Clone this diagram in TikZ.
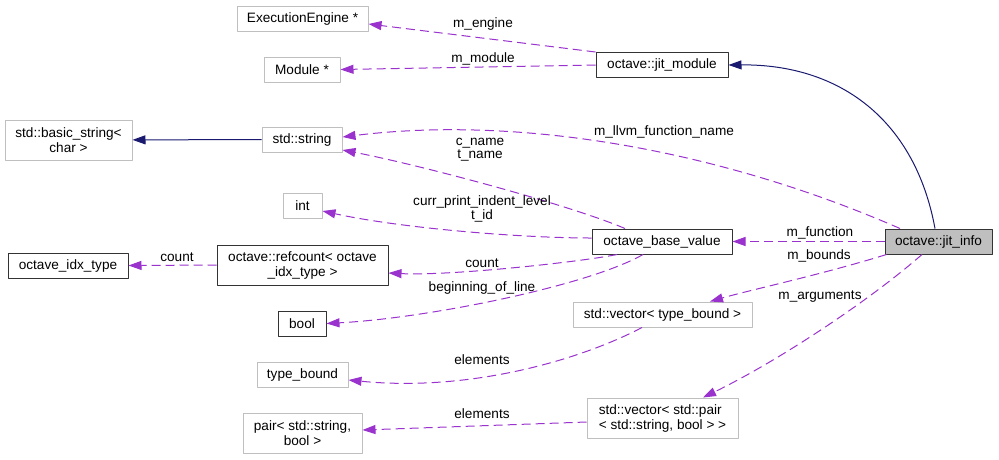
\documentclass[tikz,border=0pt]{standalone}
\usepackage{fontspec}
\setmainfont{Liberation Sans}
\usetikzlibrary{arrows.meta}
\definecolor{edgepurple}{HTML}{9A32CD}
\definecolor{inhnavy}{HTML}{191970}

\begin{document}
\begin{tikzpicture}[
    x=1pt, y=-1pt,
    line join=round, >={Triangle[length=13pt,width=9pt]},
    every node/.style={font=\fontsize{13.6}{15}\selectfont, inner sep=2pt},
    box/.style={draw=black!80,line width=1pt,minimum height=25pt},
    ghost/.style={draw=black!25,line width=1pt,minimum height=25pt},
    focus/.style={box,fill=black!25},
    member/.style={->,draw=edgepurple,line width=1pt,dash pattern=on 9pt off 5pt},
    inherit/.style={->,draw=inhnavy,line width=1pt},
    lbl/.style={inner sep=0pt,font=\fontsize{13.6}{13.5}\selectfont,align=center}
]
    \useasboundingbox (0,0) rectangle (999,459);

    % Classes, laid out in three columns as the graph engine placed them.
    \node[ghost,minimum width=131pt] (engine) at (302.5,18.5) {ExecutionEngine *};
    \node[ghost,minimum width=76pt] (module) at (302,69.5) {Module *};
    \node[box,minimum width=132pt] (jitmodule) at (662,65) {octave::jit\_module};
    \node[ghost,minimum width=127pt,minimum height=40pt,align=center] (basicstr)
        at (68.5,140) {std::basic\_string<\\char >};
    \node[ghost,minimum width=80pt] (stdstr) at (302,139.5) {std::string};
    \node[ghost,minimum width=39pt] (intt) at (302.5,206) {int};
    \node[box,minimum width=140pt] (basevalue) at (662,241.5) {octave\_base\_value};
    \node[focus,minimum width=107pt] (jitinfo) at (938.5,241.5) {octave::jit\_info};
    \node[box,minimum width=120pt] (idxtype) at (68,265.5) {octave\_idx\_type};
    \node[box,minimum width=171pt,minimum height=40pt,align=center] (refcount)
        at (302.5,265) {octave::refcount< octave\\\_idx\_type >};
    \node[box,minimum width=48pt] (boolt) at (302,323.5) {bool};
    \node[ghost,minimum width=179pt] (vecbound) at (662.5,314.5) {std::vector< type\_bound >};
    \node[ghost,minimum width=91pt] (typebound) at (302.5,374.5) {type\_bound};
    \node[ghost,minimum width=119pt,minimum height=40pt,align=center] (pairt)
        at (302.5,433) {pair< std::string,\\bool >};
    \node[ghost,minimum width=151pt,minimum height=40pt,align=left] (vecpair)
        at (662.5,418) {std::vector< std::pair\\< std::string, bool > >};

    % Inheritance edges are solid.
    \draw[inherit] (stdstr) -- (basicstr);
    \draw[inherit] ([xshift=-3.5pt]jitinfo.north)
        .. controls (915,120) and (840,64) .. (jitmodule.east);

    % Usage edges are dashed, each with its member name.
    \draw[member] (jitmodule.north west) -- ([yshift=-5.5pt]engine.east);
    \draw[member] (jitmodule.west) -- (module.east);
    \draw[member] ([xshift=-38.5pt]jitinfo.north)
        .. controls (720,150) and (520,115) .. ([yshift=2.5pt]stdstr.east);
    \draw[member] ([xshift=-37pt]basevalue.north)
        .. controls (570,205) and (420,165) .. ([yshift=-10.5pt]stdstr.east);
    \draw[member] ([yshift=3.5pt]basevalue.west)
        .. controls (520,238) and (400,228) .. ([yshift=-5pt]intt.east);
    \draw[member] ([xshift=-45pt]basevalue.south)
        .. controls (580,262) and (450,276) .. ([yshift=-8pt]refcount.east);
    \draw[member] ([xshift=-19pt]basevalue.south)
        .. controls (590,285) and (430,318) .. (boolt.east);
    \draw[member] (refcount.west) -- (idxtype.east);
    \draw[member] (jitinfo.west) -- (basevalue.east);
    \draw[member] ([xshift=2pt]jitinfo.south west)
        .. controls (820,275) and (750,290) .. ([xshift=47.5pt]vecbound.north);
    \draw[member] ([xshift=-16.5pt]jitinfo.south)
        .. controls (870,300) and (780,360) .. ([xshift=40.5pt]vecpair.north);
    \draw[member] ([xshift=-20.5pt]vecbound.south)
        .. controls (580,360) and (470,392) .. ([yshift=-5.5pt]typebound.east);
    \draw[member] ([yshift=-4pt]vecpair.west) -- ([yshift=3pt]pairt.east);

    \node[lbl] (lengine) at (483,24) {m\_engine};
    \node[lbl] (lmodule) at (483,59) {m\_module};
    \node[lbl] (lllvm) at (664,132) {m\_llvm\_function\_name};
    \node[lbl] (lnames) at (480,149.5) {c\_name\\t\_name};
    \node[lbl] (lindent) at (482,209) {curr\_print\_indent\_level\\t\_id};
    \node[lbl] (lcount) at (482,263) {count};
    \node[lbl] (lbol) at (482,288) {beginning\_of\_line};
    \node[lbl] (lidx) at (177,257) {count};
    \node[lbl] (lelbound) at (482,360) {elements};
    \node[lbl] (lelpair) at (482,414) {elements};
    \node[lbl] (lfunction) at (820,233) {m\_function};
    \node[lbl] (lbounds) at (819,256) {m\_bounds};
    \node[lbl] (larguments) at (820,297) {m\_arguments};
\end{tikzpicture}
\end{document}
